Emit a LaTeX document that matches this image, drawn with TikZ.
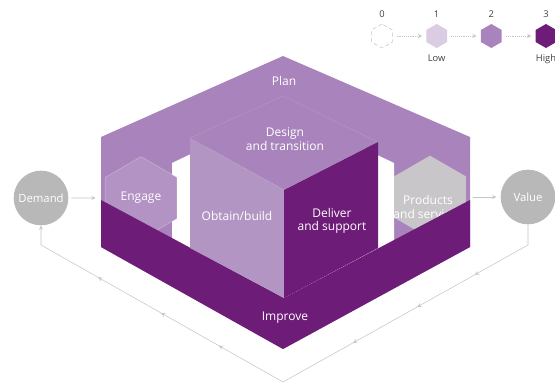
\documentclass[tikz,border=0pt]{standalone}
\usepackage{fontspec}
\setmainfont{Open Sans}
\usetikzlibrary{arrows,positioning,shapes.geometric,decorations.markings}
\definecolor{midpurple}{HTML}{A984BC}
\definecolor{litepurple}{HTML}{B395C4}
\definecolor{darkpurple}{HTML}{6D1C77}
\definecolor{palepurple}{HTML}{DACCE2}
\definecolor{hexgrey}{HTML}{C9C6CA}
\definecolor{dotgrey}{HTML}{B8B8B8}
\definecolor{linegrey}{HTML}{C4C4C4}
\tikzset{hexa/.style={regular polygon,regular polygon sides=6,regular polygon rotate=30,minimum size=62pt,inner sep=0pt,text=white,font=\fontsize{9}{10}\selectfont}}
\tikzset{endpoint/.style={circle,fill=dotgrey,minimum size=41pt,inner sep=0pt,text=white,font=\fontsize{8.5}{9.5}\selectfont}}
\tikzset{lbl/.style={text=white,align=center,font=\fontsize{9}{10}\selectfont}}
\tikzset{lvl/.style={regular polygon,regular polygon sides=6,regular polygon rotate=30,minimum size=18pt,inner sep=0pt}}
\tikzset{lvltxt/.style={font=\fontsize{7}{8}\selectfont,text=black!75,label distance=1pt}}
\tikzset{flowArrow/.style={-stealth,linegrey,thin}}
\tikzset{legArrow/.style={-stealth,linegrey,densely dotted,shorten >=3pt,shorten <=3pt}}
\tikzset{loopArrow/.style={-stealth,linegrey,thin,postaction={decorate},decoration={markings,
  mark=at position 0.136 with {\arrow{stealth}},mark=at position 0.246 with {\arrow{stealth}},
  mark=at position 0.369 with {\arrow{stealth}},mark=at position 0.626 with {\arrow{stealth}},
  mark=at position 0.737 with {\arrow{stealth}},mark=at position 0.858 with {\arrow{stealth}}}}}

\begin{document}
\begin{tikzpicture}[x=0.75pt,y=-0.75pt]
\useasboundingbox (0,0) rectangle (555,385);
\fill [midpurple] (283,56) -- (470,137) -- (470,247) -- (283,349) -- (101,247) -- (101,137) -- cycle;
\fill [white] (172,163) -- (283,110) -- (394,163) -- (394,250) -- (283,300) -- (172,250) -- cycle;
\node (engage) [hexa, fill=midpurple!88!white, draw=white, draw opacity=0.3] at (141,198) {Engage};
\node (products) [hexa, fill=hexgrey] at (430,197) {};
\node (prodlbl) [lbl] at (428,207) {Products\\and services};
\fill [darkpurple] (101,200) -- (284,298) -- (470,200) -- (470,247) -- (283,349) -- (101,247) -- cycle;
\filldraw [fill=midpurple, draw=white, draw opacity=0.12] (190,138) -- (283,96) -- (378,142) -- (284,190) -- cycle;
\fill [litepurple] (190,138) -- (284,190) -- (284,298) -- (190,248) -- cycle;
\fill [darkpurple] (284,190) -- (378,142) -- (378,248) -- (284,298) -- cycle;
\node (plan) [lbl] at (284,81) {Plan};
\node (design) [lbl] at (285,139) {Design\\and transition};
\node (obtain) [lbl] at (237,216) {Obtain/build};
\node (deliver) [lbl] at (332,221) {Deliver\\and support};
\node (improve) [lbl] at (285,318) {Improve};
\node (demand) [endpoint] at (41,198) {Demand};
\node (value) [endpoint] at (528,197) {Value};
\draw [flowArrow, shorten <=2pt, shorten >=7pt] (demand) -- (engage);
\draw [flowArrow, shorten <=5pt, shorten >=3pt] (products) -- (value);
\coordinate (vcorner) at (528,245);
\coordinate (loopbottom) at (283,382);
\coordinate (dcorner) at (41,245);
\draw [loopArrow] (value.south) -- (vcorner) -- (loopbottom) -- (dcorner) -- (demand.south);
\begin{scope}[node distance=25pt]
	\node (lvl0) [lvl, draw=linegrey, densely dashed, fill=white, label={[lvltxt]above:0}] at (382,36) {};
	\node (lvl1) [lvl, fill=palepurple, right =of lvl0, label={[lvltxt]above:1}, label={[lvltxt]below:Low}] {};
	\node (lvl2) [lvl, fill=midpurple, right =of lvl1, label={[lvltxt]above:2}] {};
	\node (lvl3) [lvl, fill=darkpurple, right =of lvl2, label={[lvltxt]above:3}, label={[lvltxt]below:High}] {};
	\draw [legArrow] (lvl0) -- (lvl1);
	\draw [legArrow] (lvl1) -- (lvl2);
	\draw [legArrow] (lvl2) -- (lvl3);
\end{scope}
\end{tikzpicture}
\end{document}
